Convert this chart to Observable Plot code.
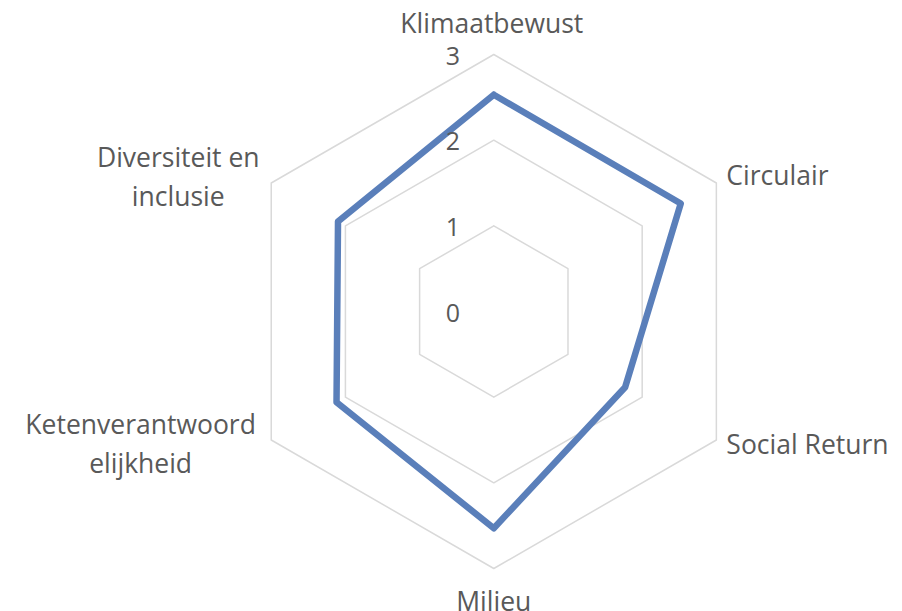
<!DOCTYPE html>
<html>
<head>
<meta charset="utf-8">
<script src="https://cdn.jsdelivr.net/npm/d3@7"></script>
<script src="https://cdn.jsdelivr.net/npm/@observablehq/plot@0.6"></script>
<style>
  html, body { margin: 0; padding: 0; background: #fff; }
  #chart svg { display: block; }
</style>
</head>
<body>
<div id="chart"></div>
<script>
const categories = ["Klimaatbewust", "Circulair", "Social Return", "Milieu", "Ketenverantwoord\nelijkheid", "Diversiteit en\ninclusie"];
const values = [2.53, 2.52, 1.77, 2.53, 2.12, 2.1];
const rings = [1, 2, 3];
const tickLabels = ["0", "1", "2", "3"];

const n = categories.length;
const ang = i => (i * 2 * Math.PI) / n;
const px = (r, i) => r * Math.sin(ang(i));
const py = (r, i) => r * Math.cos(ang(i));

const ringData = rings.flatMap(r => d3.range(n + 1).map(i => ({ring: r, x: px(r, i % n), y: py(r, i % n)})));
const series = d3.range(n + 1).map(i => ({x: px(values[i % n], i % n), y: py(values[i % n], i % n)}));
const labelData = categories.map((c, i) => ({label: c, x: px(3, i), y: py(3, i), i}));
const tickData = tickLabels.map(t => ({t, x: 0, y: +t}));

const offs = [
  {dx: -2, dy: -34, a: "middle"},
  {dx: 10, dy: -10, a: "start"},
  {dx: 10, dy: 2, a: "start"},
  {dx: 0, dy: 30, a: "middle"},
  {dx: -130.6, dy: 1, a: "middle"},
  {dx: -93, dy: -9, a: "middle"}
];

const font = "'Open Sans', sans-serif";
const textColor = "#595959";

const plot = Plot.plot({
  width: 902,
  height: 611,
  marginLeft: 236.3,
  marginRight: 151.7,
  marginTop: 54,
  marginBottom: 43,
  x: {domain: [-3, 3], axis: null},
  y: {domain: [-3, 3], axis: null},
  style: {fontFamily: font, background: "#fff", overflow: "visible"},
  marks: [
    Plot.line(ringData, {x: "x", y: "y", z: "ring", stroke: "#d9d9d9", strokeWidth: 1.5}),
    Plot.line(series, {x: "x", y: "y", stroke: "#5a7fba", strokeWidth: 6.5, strokeLinejoin: "round", strokeLinecap: "round"}),
    Plot.text(tickData, {x: "x", y: "y", text: "t", dx: -41, dy: 2, fill: textColor, fontSize: 25, textAnchor: "middle"}),
    ...labelData.map(d => Plot.text([d], {
      x: "x", y: "y", text: "label",
      dx: offs[d.i].dx, dy: offs[d.i].dy, textAnchor: offs[d.i].a,
      fill: textColor, fontSize: 26.5, lineHeight: 1.45
    }))
  ]
});
document.getElementById("chart").appendChild(plot);
</script>
</body>
</html>
